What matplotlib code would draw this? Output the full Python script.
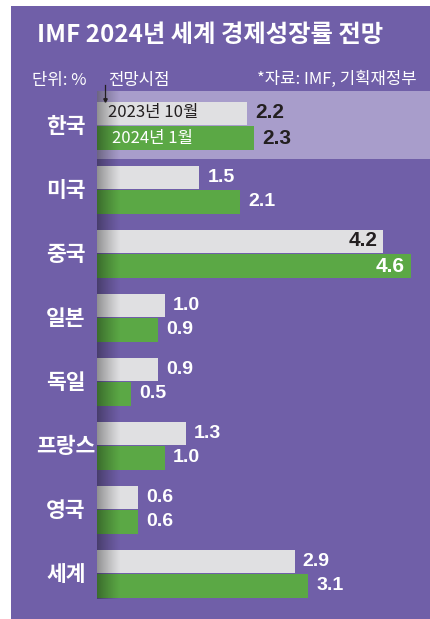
import numpy as np
import matplotlib
matplotlib.use("Agg")
import matplotlib.pyplot as plt
from matplotlib.patches import Rectangle
from matplotlib.lines import Line2D

plt.rcParams['font.family'] = ['Noto Sans CJK KR', 'DejaVu Sans']

countries = ["한국", "미국", "중국", "일본", "독일", "프랑스", "영국", "세계"]
oct2023 = [2.2, 1.5, 4.2, 1.0, 0.9, 1.3, 0.6, 2.9]
jan2024 = [2.3, 2.1, 4.6, 0.9, 0.5, 1.0, 0.6, 3.1]
series_labels = ["2023년 10월", "2024년 1월"]
title = "IMF 2024년 세계 경제성장률 전망"
unit_text = "단위: %"
point_text = "전망시점"
source_text = "*자료: IMF, 기획재정부"

W, H = 431, 619
PURPLE = "#705FA8"
BAND = "#A89DCB"
GREY = "#E0E0E2"
GREEN = "#5BA845"
DARK = "#231F20"

fig = plt.figure(figsize=(W / 100, H / 100), dpi=100)
fig.patch.set_facecolor("white")

def px(x, y):
    return x / W, 1 - y / H

# purple panel
fig.patches.append(Rectangle((11 / W, 0), 1 - 11 / W, 1 - 6 / H, transform=fig.transFigure,
                             facecolor=PURPLE, edgecolor="none", zorder=-5))

# title and header texts
fig.text(*px(210, 35), title, color="white", fontsize=17.5, fontweight="bold",
         ha="center", va="center")
fig.text(*px(32, 80), unit_text, color="white", fontsize=12, ha="left", va="center")
fig.text(*px(108, 80), point_text, color="white", fontsize=12, ha="left", va="center")
fig.text(*px(417, 79), source_text, color="white", fontsize=12, ha="right", va="center")

# bar axes
ax_left, ax_top = 97, 91
ax = fig.add_axes([ax_left / W, 0, 1 - ax_left / W, 1 - ax_top / H])
ax.set_zorder(1)
ax.set_facecolor("none")
ppu_x = 68.2
ppu_y = 64.0
row0 = 125.5
xlim = (0, (W - ax_left) / ppu_x)
ylim = ((H - row0) / ppu_y, -(row0 - ax_top) / ppu_y)
ax.axis("off")

n = len(countries)
y = np.arange(n)
off = 12.5 / ppu_y
bh = 24 / ppu_y

# Korea highlight band
ax.axhspan(-(row0 - ax_top) / ppu_y, (159 - row0) / ppu_y, color=BAND, zorder=1, lw=0)

ax.barh(y - off, oct2023, height=23 / ppu_y, color=GREY, zorder=2, lw=0)
ax.barh(y + off, jan2024, height=bh, color=GREEN, zorder=2, lw=0)

# left shadow gradient
t = np.linspace(0, 1, 200)
alpha = 0.36 * (1 - t) ** 1.2
grad = np.zeros((1, 200, 4))
grad[..., 3] = alpha
ax.imshow(grad, extent=[0, 24 / ppu_x, (599 - row0) / ppu_y, -(row0 - ax_top) / ppu_y],
          aspect="auto", zorder=3, interpolation="bilinear")
ax.set_xlim(*xlim)
ax.set_ylim(*ylim)

num_font = ['Liberation Sans', 'DejaVu Sans']
for i in range(n):
    for j, (vals, yy) in enumerate([(oct2023, y[i] - off), (jan2024, y[i] + off)]):
        v = vals[i]
        lab = f"{v:.1f}"
        if i == 0:
            ax.text(v + 8 / ppu_x, yy, lab, color=DARK, fontsize=15, fontweight="bold",
                    family=num_font, ha="left", va="center", zorder=5)
        elif v >= 4:
            ax.text(v - 6 / ppu_x, yy, lab, color=DARK if j == 0 else "white", fontsize=15,
                    fontweight="bold", family=num_font, ha="right", va="center", zorder=5)
        else:
            ax.text(v + 8 / ppu_x, yy, lab, color="white", fontsize=14, fontweight="bold",
                    family=num_font, ha="left", va="center", zorder=5)
    fig_y = row0 + i * ppu_y
    fig.text(*px(66, fig_y + 1), countries[i], color="white", fontsize=15.5, fontweight="bold",
             ha="center", va="center")

# legend labels inside Korea bars
ax.text(11 / ppu_x, -off, series_labels[0], color=DARK, fontsize=12, ha="left", va="center", zorder=5)
ax.text(15 / ppu_x, off, series_labels[1], color="white", fontsize=12, ha="left", va="center", zorder=5)

# pointer line
fig.lines.append(Line2D([105 / W, 105 / W], [1 - 85 / H, 1 - 100 / H], transform=fig.transFigure,
                        color=DARK, lw=0.9, zorder=10))
fig.lines.append(Line2D([105 / W], [1 - 100 / H], transform=fig.transFigure, marker="v",
                        markersize=2.5, color=DARK, lw=0, zorder=10))

fig.savefig("out.png", dpi=100)
